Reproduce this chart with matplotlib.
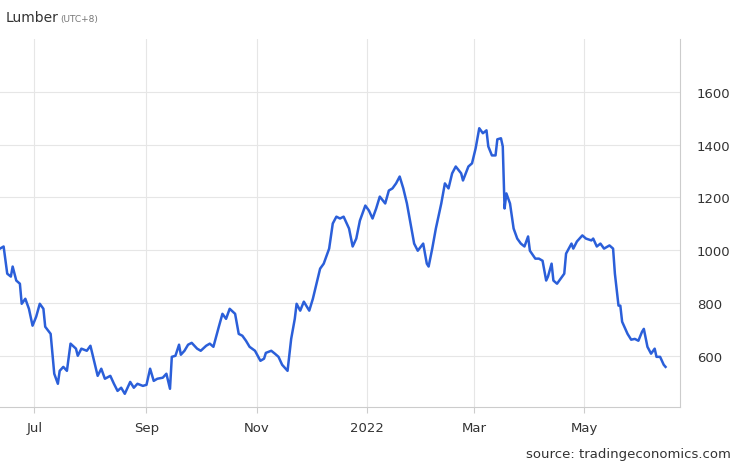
import matplotlib.pyplot as plt
import matplotlib.dates as mdates
import pandas as pd

base = "2021-06-12"
day_offsets = [0, 2, 4, 6, 7, 9, 11, 12, 14, 16, 18, 20, 22, 24, 25, 28, 30, 32, 33, 35, 37, 39, 42, 43, 45, 48,
               50, 52, 54, 56, 58, 61, 63, 65, 67, 69, 72, 74, 76, 79, 81, 83, 85, 87, 90, 92, 94, 95, 97, 99,
               100, 102, 104, 106, 109, 111, 114, 116, 118, 121, 123, 125, 127, 130, 132, 134, 136, 138, 141,
               144, 146, 147, 150, 152, 154, 156, 158, 159, 161, 163, 164, 166, 168, 171, 173, 175, 177, 179,
               182, 184, 186, 188, 190, 193, 195, 197, 199, 202, 204, 206, 208, 210, 213, 215, 217, 219, 221,
               223, 225, 227, 229, 231, 234, 236, 237, 239, 241, 244, 246, 248, 250, 252, 255, 256, 259, 261,
               263, 265, 267, 269, 270, 272, 274, 275, 277, 278, 279, 280, 282, 284, 286, 288, 290, 292, 293,
               296, 298, 300, 302, 303, 305, 306, 308, 310, 312, 313, 316, 317, 319, 322, 324, 327, 328, 330,
               332, 334, 336, 337, 339, 340, 342, 343, 344, 347, 349, 351, 353, 355, 356, 358, 360, 362, 363,
               365, 367, 368]
prices = [1006, 1014, 911, 900, 938, 885, 873, 797, 816, 778, 714, 748, 797, 778, 710, 683, 532, 494, 543, 558,
          543, 646, 627, 600, 627, 619, 638, 581, 524, 551, 513, 524, 494, 467, 479, 456, 501, 479, 494, 486,
          490, 551, 505, 513, 517, 532, 475, 596, 600, 642, 604, 619, 642, 649, 627, 619, 638, 646, 634, 710,
          759, 740, 778, 759, 683, 676, 657, 634, 619, 581, 589, 611, 619, 608, 596, 566, 551, 543, 664, 740,
          797, 771, 805, 771, 816, 873, 930, 949, 1006, 1101, 1127, 1120, 1127, 1082, 1014, 1044, 1112, 1169,
          1150, 1120, 1158, 1203, 1177, 1226, 1234, 1253, 1279, 1234, 1177, 1101, 1025, 998, 1025, 949, 938,
          1006, 1082, 1177, 1253, 1234, 1291, 1317, 1291, 1264, 1317, 1329, 1386, 1462, 1443, 1454, 1393, 1359,
          1359, 1420, 1424, 1393, 1158, 1215, 1177, 1082, 1044, 1025, 1014, 1052, 998, 968, 968, 960, 885, 900,
          949, 885, 873, 892, 911, 987, 1025, 1006, 1033, 1056, 1044, 1037, 1044, 1014, 1025, 1006, 1014, 1018,
          1006, 911, 790, 790, 729, 683, 661, 664, 657, 691, 702, 634, 608, 627, 596, 596, 566, 558]

dates = pd.to_datetime(base) + pd.to_timedelta(day_offsets, unit="D")

fig = plt.figure(figsize=(7.4, 4.64), dpi=100)
ax = fig.add_axes([0, 56 / 464, 680 / 740, 368 / 464])
ax.plot(dates, prices, color="#2b5fd9", lw=1.8)
ax.set_xlim(pd.to_datetime(base), pd.to_datetime(base) + pd.Timedelta(days=376))
ax.set_ylim(406, 1800)
ax.set_yticks([600, 800, 1000, 1200, 1400, 1600])
ax.yaxis.tick_right()
ax.xaxis.set_major_locator(mdates.MonthLocator(bymonth=[1, 3, 5, 7, 9, 11]))
ax.xaxis.set_major_formatter(mdates.DateFormatter("%b"))
fmt = lambda d, p: mdates.num2date(d).strftime("%Y") if mdates.num2date(d).month == 1 else mdates.num2date(d).strftime("%b")
ax.xaxis.set_major_formatter(plt.FuncFormatter(fmt))
ax.grid(True, color="#e6e6e6", lw=0.8)
for s in ["top", "left"]:
    ax.spines[s].set_visible(False)
ax.spines["bottom"].set_color("#cccccc")
ax.spines["right"].set_color("#cccccc")
ax.tick_params(axis="both", colors="#333333", labelsize=9.5, length=4)
ax.tick_params(axis="y", length=0, pad=12)
ax.tick_params(axis="x", color="#cccccc", labelcolor="#333333", pad=6)

fig.text(0.008, 0.952, "Lumber", fontsize=10, color="#333333")
fig.text(0.082, 0.952, "(UTC+8)", fontsize=6.5, color="#777777")
fig.text(0.988, 0.012, "source: tradingeconomics.com", fontsize=9.5, color="#333333", ha="right")
fig.savefig("out.png")
